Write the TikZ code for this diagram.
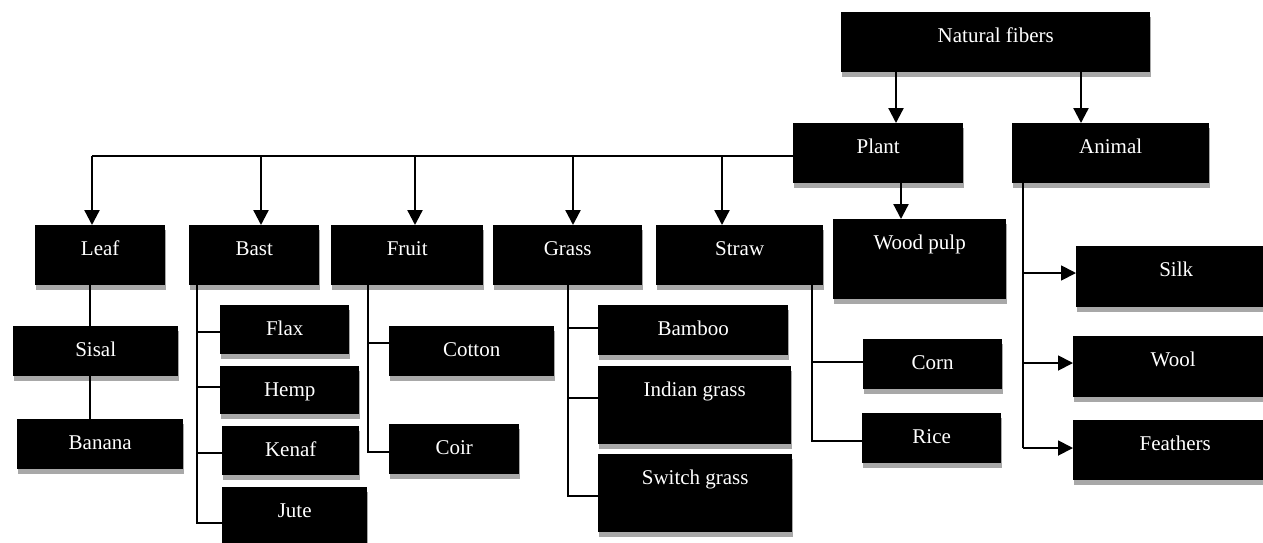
\documentclass[tikz,border=0pt]{standalone}
\usepackage{fontspec}
\setmainfont{Liberation Serif}
\usetikzlibrary{arrows.meta,shadows}
\definecolor{shadowgray}{RGB}{168,168,168}
\tikzset{
  box/.style={fill=black, text=white, inner sep=0pt, anchor=north west,
    font=\fontsize{21}{25}\selectfont, text height=30.5pt,
    drop shadow={shadow xshift=0.8pt, shadow yshift=-4.5pt, fill=shadowgray, opacity=1}},
  arr/.style={line width=2.3pt, -{Triangle[width=15pt,length=15pt]}},
  hline/.style={line width=2pt},
  thin/.style={line width=1.6pt},
}
\newcommand\bx[6]{\node[box, minimum width=#4pt, text depth=#5pt-30.5pt] (#1) at (#2,#3) {#6};}
\begin{document}
\begin{tikzpicture}[x=1pt,y=-1pt]
\clip (0,0) rectangle (1263,542);
\fill[white] (0,0) rectangle (1263,542);
% boxes
\bx{nf}{841}{12}{309}{60}{Natural fibers}
\bx{plant}{793}{123}{170}{60}{Plant}
\bx{animal}{1012}{123}{197}{60}{Animal}
\bx{leaf}{35}{225}{130}{60}{Leaf}
\bx{bast}{189}{225}{130}{60}{Bast}
\bx{fruit}{331}{225}{152}{60}{Fruit}
\bx{grass}{493}{225}{149}{60}{Grass}
\bx{straw}{656}{225}{167}{60}{Straw}
\bx{wood}{833}{219}{173}{80}{Wood pulp}
\bx{sisal}{13}{326}{165}{50}{Sisal}
\bx{banana}{17}{419}{166}{50}{Banana}
\bx{flax}{220}{305}{129}{49}{Flax}
\bx{hemp}{220}{366}{139}{48}{Hemp}
\bx{kenaf}{222}{426}{137}{49}{Kenaf}
\bx{jute}{222}{487}{145}{62}{Jute}
\bx{cotton}{389}{326}{165}{50}{Cotton}
\bx{coir}{389}{424}{130}{50}{Coir}
\bx{bamboo}{598}{305}{190}{50}{Bamboo}
\bx{indian}{598}{366}{193}{78}{Indian grass}
\bx{switch}{598}{454}{194}{78}{Switch grass}
\bx{corn}{863}{339}{139}{50}{Corn}
\bx{rice}{862}{413}{139}{50}{Rice}
\bx{silk}{1076}{246}{200}{61}{Silk}
\bx{wool}{1073}{336}{200}{61}{Wool}
\bx{feathers}{1073}{420}{204}{60}{Feathers}
% helper coordinates
\coordinate (xp) at (896,0);
\coordinate (xa) at (1081,0);
\coordinate (hy) at (0,156);
\coordinate (xl) at (92,0);
\coordinate (xb) at (261,0);
\coordinate (xf) at (415,0);
\coordinate (xg) at (573,0);
\coordinate (xs) at (722,0);
\coordinate (xw) at (901,0);
\coordinate (xleaf) at (90,0);
\coordinate (tb) at (197,0);
\coordinate (tf) at (368,0);
\coordinate (tg) at (568,0);
\coordinate (ts) at (812,0);
\coordinate (ta) at (1023,0);
% top level
\draw[arr] (nf.south -| xp) -- (plant.north -| xp);
\draw[arr] (nf.south -| xa) -- (animal.north -| xa);
% plant bus
\draw[hline] (hy -| plant.west) -- (hy -| xl);
\draw[arr] (hy -| xl) -- (leaf.north -| xl);
\draw[arr] (hy -| xb) -- (bast.north -| xb);
\draw[arr] (hy -| xf) -- (fruit.north -| xf);
\draw[arr] (hy -| xg) -- (grass.north -| xg);
\draw[arr] (hy -| xs) -- (straw.north -| xs);
\draw[arr] (plant.south -| xw) -- (wood.north -| xw);
% leaf
\draw[thin] (leaf.south -| xleaf) -- (sisal.north -| xleaf);
\draw[thin] (sisal.south -| xleaf) -- (banana.north -| xleaf);
% bast
\draw[thin] (bast.south -| tb) -- (tb |- 0,523) -- (jute.west |- 0,523);
\draw[thin] (tb |- 0,332) -- (flax.west |- 0,332);
\draw[thin] (tb |- 0,387) -- (hemp.west |- 0,387);
\draw[thin] (tb |- 0,453) -- (kenaf.west |- 0,453);
% fruit
\draw[thin] (fruit.south -| tf) -- (tf |- 0,452) -- (coir.west |- 0,452);
\draw[thin] (tf |- 0,343) -- (cotton.west |- 0,343);
% grass
\draw[thin] (grass.south -| tg) -- (tg |- 0,496) -- (switch.west |- 0,496);
\draw[thin] (tg |- 0,328) -- (bamboo.west |- 0,328);
\draw[thin] (tg |- 0,398) -- (indian.west |- 0,398);
% straw
\draw[thin] (straw.south -| ts) -- (ts |- 0,441) -- (rice.west |- 0,441);
\draw[thin] (ts |- 0,362) -- (corn.west |- 0,362);
% animal
\draw[thin] (animal.south -| ta) -- (ta |- 0,448);
\draw[thin, arr, line width=1.8pt] (ta |- 0,273) -- (silk.west |- 0,273);
\draw[thin, arr, line width=1.8pt] (ta |- 0,363) -- (wool.west |- 0,363);
\draw[thin, arr, line width=1.8pt] (ta |- 0,448) -- (feathers.west |- 0,448);
\end{tikzpicture}
\end{document}
